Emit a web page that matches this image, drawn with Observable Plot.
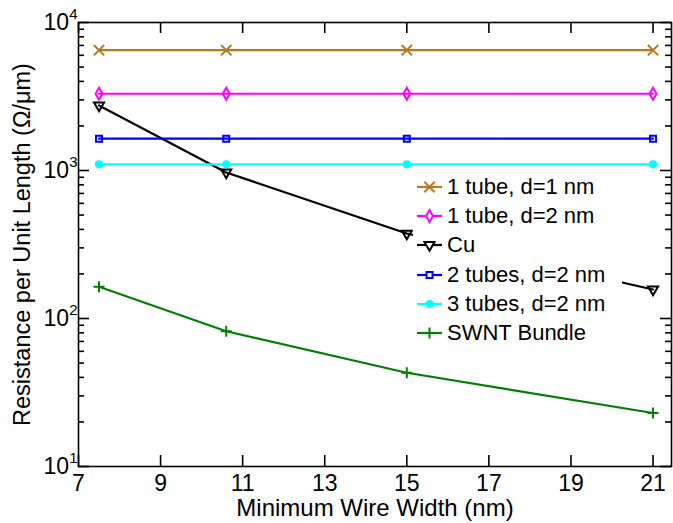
<!DOCTYPE html>
<html><head><meta charset="utf-8">
<script src="https://cdn.jsdelivr.net/npm/d3@7"></script>
<script src="https://cdn.jsdelivr.net/npm/@observablehq/plot@0.6"></script>
<style>
body{margin:0;background:#fff;font-family:"Liberation Sans",Arial,sans-serif;}
#wrap{position:relative;width:673px;height:523px;}
#legend{position:absolute;left:413px;top:172px;width:206px;padding-left:3px;font-size:22px;color:#000;background:#fff;}
.row{display:flex;align-items:center;height:29.3px;white-space:nowrap;}
.row svg{margin-right:3px;flex:none;}
</style></head><body><div id="wrap"></div>
<script>
// ---- data ----
const widths = [7.5, 10.6, 15, 21];
const seriesNames = ["1 tube, d=1 nm","1 tube, d=2 nm","Cu","2 tubes, d=2 nm","3 tubes, d=2 nm","SWNT Bundle"];
const tube1d1 = [6500, 6500, 6500, 6500];
const tube1d2 = [3300, 3300, 3300, 3300];
const cu = [2750, 970, 375, 157];
const tubes2d2 = [1640, 1640, 1640, 1640];
const tubes3d2 = [1100, 1100, 1100, 1100];
const swnt = [164, 82, 43, 23];
const xTicks = [7, 9, 11, 13, 15, 17, 19, 21];
const yMajor = [10, 100, 1000, 10000];
const yMinor = [20,30,40,50,60,70,80,90,200,300,400,500,600,700,800,900,2000,3000,4000,5000,6000,7000,8000,9000];
const xLabel = "Minimum Wire Width (nm)";
const yLabel = "Resistance per Unit Length (Ω/μm)";

// ---- styles ----
const colors = ["#b87a1e", "#ff00ff", "#000000", "#0000ff", "#00ffff", "#007f00"];
const symbols = ["times", "diamond", "triangle2", "square", "circle", "plus"];
const d3symbols = [d3.symbolTimes, d3.symbolDiamond, d3.symbolTriangle2, d3.symbolSquare, d3.symbolCircle, d3.symbolPlus];
const radii = [4.8, 3.6, 4.8, 3.4, 3.1, 3.6];
const filled = [false, false, false, false, true, false];
const rotation = [0, 0, 180, 0, 0, 0];

const values = [tube1d1, tube1d2, cu, tubes2d2, tubes3d2, swnt];
const table = [];
seriesNames.forEach((s, i) => widths.forEach((w, j) => table.push({series: s, idx: i, x: w, y: values[i][j]})));

const W = 673, H = 523, mL = 78, mR = 2, mT = 22, mB = 57;
const pw = W - mL - mR, ph = H - mT - mB;
const font = "Liberation Sans, Arial, sans-serif";

const marks = [];
seriesNames.forEach((s, i) => {
  marks.push(Plot.line(table.filter(d => d.idx === i), {x: "x", y: "y", stroke: colors[i], strokeWidth: 2.2}));
});
seriesNames.forEach((s, i) => {
  marks.push(Plot.dot(table.filter(d => d.idx === i), {
    x: "x", y: "y", symbol: () => symbols[i], r: radii[i], rotate: rotation[i],
    stroke: colors[i], strokeWidth: 2, fill: filled[i] ? colors[i] : "none"
  }));
});
// ticks (inward)
marks.push(Plot.tickY(yMajor, {y: d => d, insetRight: pw - 11, strokeWidth: 1.6}));
marks.push(Plot.tickY(yMajor, {y: d => d, insetLeft: pw - 11, strokeWidth: 1.6}));
marks.push(Plot.tickY(yMinor, {y: d => d, insetRight: pw - 6, strokeWidth: 1.6}));
marks.push(Plot.tickY(yMinor, {y: d => d, insetLeft: pw - 6, strokeWidth: 1.6}));
marks.push(Plot.tickX(xTicks, {x: d => d, insetTop: ph - 11, strokeWidth: 1.6}));
marks.push(Plot.tickX(xTicks, {x: d => d, insetBottom: ph - 11, strokeWidth: 1.6}));
marks.push(Plot.frame({stroke: "#000", strokeWidth: 1.6}));
// axes labels
marks.push(Plot.axisX(xTicks, {anchor: "bottom", tickSize: 0, tickPadding: 8, fontSize: 23, label: null, tickFormat: d => String(d)}));
marks.push(Plot.axisY(yMajor, {anchor: "left", tickSize: 0, tickPadding: 1, fontSize: 23, label: null, tickFormat: d => "10^" + Math.round(Math.log10(d))}));
marks.push(Plot.text([xLabel], {text: d => d, frameAnchor: "bottom", lineAnchor: "middle", textAnchor: "middle", dy: 42, fontSize: 24}));
marks.push(Plot.text([yLabel], {text: d => d, frameAnchor: "left", textAnchor: "middle", lineAnchor: "middle", rotate: -90, dx: -56, fontSize: 23.5}));

const chart = Plot.plot({
  width: W, height: H,
  marginLeft: mL, marginRight: mR, marginTop: mT, marginBottom: mB,
  style: {fontFamily: font, background: "#fff", color: "#000", overflow: "visible"},
  x: {domain: [7, 21.45]},
  y: {type: "log", domain: [10, 10000]},
  marks
});

d3.select(chart).selectAll('g[aria-label="y-axis tick label"] text').each(function() {
  const t = d3.select(this);
  const txt = t.text();
  if (!txt.includes("^")) return;
  const [base, exp] = txt.split("^");
  t.text(null);
  t.append("tspan").text(base);
  t.append("tspan").attr("dy", "-0.75em").attr("font-size", "15px").text(exp);
});

const wrap = document.getElementById("wrap");
wrap.appendChild(chart);

const legend = d3.select(wrap).append("div").attr("id", "legend");
seriesNames.forEach((s, i) => {
  const row = legend.append("div").attr("class", "row");
  const sv = row.append("svg").attr("width", 28).attr("height", 20);
  sv.append("line").attr("x1", 1).attr("x2", 26).attr("y1", 10).attr("y2", 10).attr("stroke", colors[i]).attr("stroke-width", 2.2);
  sv.append("path")
    .attr("d", d3.symbol(d3symbols[i], Math.PI * radii[i] * radii[i])())
    .attr("transform", `translate(13.5,10) rotate(${rotation[i]})`)
    .attr("stroke", colors[i]).attr("stroke-width", 2)
    .attr("fill", filled[i] ? colors[i] : "#fff");
  row.append("span").text(s);
});
</script>
</body></html>
